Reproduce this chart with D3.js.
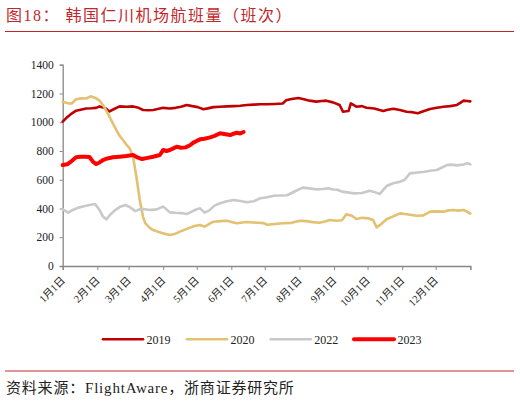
<!DOCTYPE html>
<html><head><meta charset="utf-8">
<script src="https://cdn.jsdelivr.net/npm/d3@7"></script>
<style>
body{margin:0;background:#fff;}
svg text{font-family:"Liberation Serif","Noto Sans CJK SC",serif;}
</style></head>
<body><svg id="c" width="520" height="404"></svg>
<script>
// ---- data ----
const monthLabels = ["1月1日","2月1日","3月1日","4月1日","5月1日","6月1日","7月1日","8月1日","9月1日","10月1日","11月1日","12月1日"];
const monthDays = [0,31,59,90,120,151,181,212,243,273,304,334];
const yTicks = [0,200,400,600,800,1000,1200,1400];
const seriesNames = ["2019","2020","2022","2023"];

const days2019 = [0,4,8,12,17,21,26,30,33,38,42,46,51,57,63,68,72,77,81,86,90,96,101,106,111,116,121,126,131,135,141,147,153,159,165,171,177,183,190,197,200,205,211,216,221,227,232,236,242,248,251,254,256,258,263,268,272,279,287,291,296,302,308,313,318,323,329,335,341,347,353,356,359,362,365];
const vals2019 = [1004,1035,1060,1080,1088,1095,1097,1100,1110,1098,1075,1092,1110,1108,1110,1100,1085,1083,1085,1093,1100,1095,1100,1108,1120,1112,1105,1090,1098,1105,1108,1110,1112,1115,1120,1122,1125,1125,1127,1130,1152,1162,1168,1160,1150,1143,1147,1150,1138,1120,1073,1076,1078,1131,1108,1112,1101,1095,1078,1086,1094,1085,1073,1070,1062,1076,1092,1100,1108,1112,1120,1135,1150,1148,1145];

const days2020 = [0,5,8,12,17,21,25,30,33,36,39,42,45,48,51,54,57,60,63,66,69,72,74,78,81,86,90,96,100,105,110,114,118,123,127,131,135,141,147,152,156,161,165,170,175,180,183,190,197,205,212,218,224,230,235,239,245,250,254,259,263,268,274,278,281,285,290,296,302,308,317,323,329,335,341,344,350,354,359,365];
const vals2020 = [1143,1131,1130,1160,1166,1165,1180,1166,1150,1120,1080,1038,990,946,905,876,845,818,760,621,459,340,297,265,250,237,227,216,222,239,255,267,278,285,274,292,308,312,315,305,297,302,306,303,301,298,287,292,297,300,315,312,305,301,310,320,315,318,359,350,327,335,331,320,269,290,325,345,366,360,350,352,378,380,378,385,389,385,390,365,325];

const days2022 = [0,5,9,14,19,24,29,33,36,39,43,47,51,56,60,65,68,72,78,84,90,96,101,106,111,116,120,123,127,131,136,141,147,153,159,165,171,177,183,189,195,201,208,215,221,227,233,238,242,246,250,255,261,268,275,280,284,290,296,302,306,311,318,324,329,335,341,344,348,353,359,362,365];
const vals2022 = [394,371,390,406,415,424,431,389,345,325,360,389,410,424,410,382,392,396,390,394,413,373,370,368,362,380,395,401,371,385,420,436,450,459,452,443,450,471,478,489,490,492,520,545,540,533,536,540,532,530,517,512,505,508,524,512,501,556,575,586,598,644,650,655,663,668,690,702,705,700,706,714,707];

const days2023 = [0,4,8,12,16,20,24,27,30,33,36,40,45,51,57,63,67,71,76,81,87,90,93,96,99,102,106,110,114,117,120,123,127,132,136,141,146,150,153,156,159,162];
const vals2023 = [702,707,730,756,760,760,758,726,709,720,737,748,756,760,765,772,755,744,752,760,772,807,800,807,818,830,822,825,840,858,870,881,885,895,905,923,916,911,920,927,922,932];

// ---- drawing ----
const svg = d3.select("#c");
const x = d3.scaleLinear().domain([0,365]).range([62.7,470.3]);
const y = d3.scaleLinear().domain([0,1400]).range([266,64.7]);
const titleRed = "#C0282D";

// title
svg.append("text").attr("x",6).attr("y",21).attr("fill",titleRed)
  .style("font-size","16px").style("letter-spacing","1.5px")
  .text("图18：  韩国仁川机场航班量（班次）");
svg.append("line").attr("x1",5).attr("x2",514).attr("y1",31.5).attr("y2",31.5)
  .attr("stroke",titleRed).attr("stroke-width",1);

// y axis
const yAxis = d3.axisLeft(y).tickValues(yTicks).tickSize(3).tickPadding(6).tickFormat(d3.format("d"));
const gy = svg.append("g").attr("transform","translate(62.7,0)").call(yAxis);
gy.select(".domain").attr("stroke","#888").attr("stroke-width",1.3);
gy.selectAll(".tick line").attr("stroke","#888");
gy.selectAll("text").style("font-size","11.5px").attr("fill","#222").style("font-family","Liberation Serif");

// x axis
const xAxis = d3.axisBottom(x).tickValues(monthDays.concat([365])).tickSize(4).tickFormat(()=> "");
const gx = svg.append("g").attr("transform","translate(0,266)").call(xAxis);
gx.select(".domain").attr("stroke","#888").attr("stroke-width",1.3);
gx.selectAll(".tick line").attr("stroke","#888");
svg.append("g").selectAll("text").data(monthLabels).join("text")
  .attr("transform",(d,i)=>`translate(${x(monthDays[i])+3},281) rotate(-45)`)
  .attr("text-anchor","end").attr("fill","#222")
  .style("font-size","10.5px").text(d=>d);

// lines
const series = [
  {name:"2019",days:days2019,vals:vals2019,color:"#C00000",w:2.6},
  {name:"2020",days:days2020,vals:vals2020,color:"#E2C173",w:2.6},
  {name:"2022",days:days2022,vals:vals2022,color:"#C9C9C9",w:2.6},
  {name:"2023",days:days2023,vals:vals2023,color:"#FF0000",w:4}
];
const line = d3.line().x(d=>x(d[0])).y(d=>y(d[1]));
series.forEach(s=>{
  svg.append("path").datum(s.days.map((d,i)=>[d,s.vals[i]]))
    .attr("d",line).attr("fill","none").attr("stroke",s.color)
    .attr("stroke-width",s.w).attr("stroke-linejoin","round").attr("stroke-linecap","round");
});

// legend
const legX = [103,187,270.7,354];
series.forEach((s,i)=>{
  svg.append("line").attr("x1",legX[i]).attr("x2",legX[i]+40).attr("y1",339.3).attr("y2",339.3)
    .attr("stroke",s.color).attr("stroke-width",s.w).attr("stroke-linecap","round");
  svg.append("text").attr("x",legX[i]+43.5).attr("y",343.5).attr("fill","#222")
    .style("font-size","12px").text(seriesNames[i]);
});

// source
svg.append("line").attr("x1",5).attr("x2",514).attr("y1",371).attr("y2",371)
  .attr("stroke",titleRed).attr("stroke-width",1);
svg.append("text").attr("x",6).attr("y",393).attr("fill","#222")
  .style("font-size","15px").style("letter-spacing","0.8px").text("资料来源：FlightAware，浙商证券研究所");
</script></body></html>
